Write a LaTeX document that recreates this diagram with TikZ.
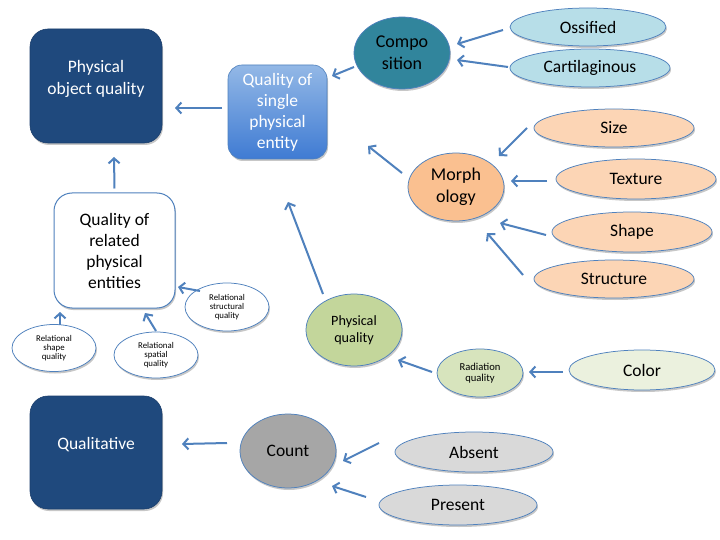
\documentclass[tikz,border=0pt]{standalone}
\usepackage{fontspec}
\setmainfont{Carlito}
\usetikzlibrary{shapes.geometric,arrows.meta,calc,shadows}
\definecolor{navy}{HTML}{1F497D}
\definecolor{navyline}{HTML}{1A3E6C}
\definecolor{arrowblue}{HTML}{4F81BD}
\definecolor{sgltop}{HTML}{93B8E6}
\definecolor{sglbot}{HTML}{3F7BD3}
\definecolor{teal}{HTML}{31859C}
\definecolor{lblue}{HTML}{B7DEE8}
\definecolor{orangeA}{HTML}{FAC090}
\definecolor{orangeB}{HTML}{FCD5B5}
\definecolor{greenA}{HTML}{C3D69B}
\definecolor{greenB}{HTML}{D7E4BD}
\definecolor{greenC}{HTML}{EBF1DE}
\definecolor{greyA}{HTML}{A6A6A6}
\definecolor{greyB}{HTML}{D9D9D9}
\tikzset{
  shad/.style={drop shadow={shadow xshift=1pt, shadow yshift=-2pt, opacity=0.22, fill=black}},
  navybox/.style={rectangle, rounded corners=18pt, fill=navy, draw=navyline, line width=0.6pt,
    minimum width=132pt, minimum height=#1, inner sep=0pt, shad},
  whitetxt/.style={text=white, align=center, font=\fontsize{17.5}{22}\selectfont, inner sep=0pt},
  sglbox/.style={rectangle, rounded corners=14pt, top color=sgltop, bottom color=sglbot, draw=arrowblue,
    line width=0.6pt, minimum width=99pt, minimum height=94pt, inner sep=0pt, text=white, align=center,
    font=\fontsize{17.5}{21}\selectfont, shad},
  relbox/.style={rectangle, rounded corners=18pt, fill=white, draw=arrowblue, line width=1pt,
    minimum width=121pt, minimum height=115pt, inner sep=0pt, align=center,
    font=\fontsize{17.5}{21}\selectfont, shad},
  ell/.style 2 args={ellipse, minimum width=#1pt, minimum height=#2pt, inner sep=0pt,
    draw=arrowblue, line width=0.75pt, align=center, text=black, shad},
  bigf/.style={font=\fontsize{17.5}{21}\selectfont},
  midf/.style={font=\fontsize{18}{22}\selectfont},
  medf/.style={font=\fontsize{14.2}{17}\selectfont},
  smlf/.style={font=\fontsize{10.6}{11.5}\selectfont},
  tinyf/.style={font=\fontsize{8.8}{9}\selectfont},
  arr/.style={draw=arrowblue, line width=2pt, -{Straight Barb[length=5pt,width=11pt]}},
}
\begin{document}
\begin{tikzpicture}[x=1pt,y=-1pt]
\useasboundingbox[fill=white] (0,0) rectangle (720,540);

% boxes
\node[navybox=114pt] (pobj) at (96,86) {};
\node[whitetxt] (pobjtxt) at (96,79) {Physical\\object quality};
\node[navybox=113pt] (qual) at (96,452.5) {};
\node[whitetxt] (qualtxt) at (96,445) {Qualitative};
\node[sglbox] (single) at (277.5,112) {Quality of\\single\\physical\\entity};
\node[relbox] (related) at (114.5,250.5) {Quality of\\related\\physical\\entities};

% composition branch
\node[ell={96}{72}, fill=teal, midf] (compo) at (402,53) {Compo\\sition};
\node[ell={156}{38}, fill=lblue, bigf] (ossified) at (588,27) {Ossified};
\node[ell={160}{38}, fill=lblue, bigf] (cart) at (590,68) {Cartilaginous};

% morphology branch
\node[ell={96}{68}, fill=orangeA, midf] (morph) at (456,187) {Morph\\ology};
\node[ell={160}{38}, fill=orangeB, bigf] (size) at (614,128) {Size};
\node[ell={160}{40}, fill=orangeB, bigf] (texture) at (636,179) {Texture};
\node[ell={160}{40}, fill=orangeB, bigf] (shape) at (632,232) {Shape};
\node[ell={160}{38}, fill=orangeB, bigf] (structure) at (614,279) {Structure};

% physical quality branch
\node[ell={96}{72}, fill=greenA, medf] (physq) at (354,330) {Physical\\quality};
\node[ell={86}{48}, fill=greenB, smlf] (radq) at (480,373) {Radiation\\quality};
\node[ell={146}{40}, fill=greenC, bigf] (color) at (642,370) {Color};

% relational qualities
\node[ell={84}{48}, fill=white, tinyf] (relstruct) at (227,307) {Relational\\structural\\quality};
\node[ell={84}{47}, fill=white, tinyf] (relshape) at (54,348) {Relational\\shape\\quality};
\node[ell={84}{46}, fill=white, tinyf] (relspatial) at (156,355) {Relational\\spatial\\quality};

% count branch
\node[ell={96}{74}, fill=greyA, bigf] (count) at (288,451) {Count};
\node[ell={158}{40}, fill=greyB, bigf] (absent) at (474,452) {Absent};
\node[ell={158}{40}, fill=greyB, bigf] (present) at (458,505) {Present};

% connectors
\draw[arr] ($(single)+(-55.5,-4)$) -- ($(pobj)+(79,22)$);
\draw[arr] ($(related)+(0,-62)$) -- ($(pobj)+(18,71)$);
\draw[arr] ($(compo)+(-48,14)$) -- ($(single)+(54.5,-36)$);
\draw[arr] ($(ossified)+(-85,3)$) -- ($(compo)+(55,-9)$);
\draw[arr] ($(cart)+(-82,-1)$) -- ($(compo)+(55,7)$);
\draw[arr] ($(morph)+(-54,-14)$) -- ($(single)+(90.5,34)$);
\draw[arr] ($(size)+(-87,0)$) -- ($(morph)+(43,-31)$);
\draw[arr] ($(texture)+(-89,2)$) -- ($(morph)+(55,-6)$);
\draw[arr] ($(shape)+(-86,3)$) -- ($(morph)+(44,36)$);
\draw[arr] ($(structure)+(-91,-4)$) -- ($(morph)+(31,46)$);
\draw[arr] ($(physq)+(-31,-36)$) -- ($(single)+(10.5,90)$);
\draw[arr] ($(radq)+(-48,-1)$) -- ($(physq)+(44,30)$);
\draw[arr] ($(color)+(-79,2)$) -- ($(radq)+(49,-1)$);
\draw[arr] ($(relstruct)+(-27,-16)$) -- ($(related)+(63.5,36.5)$);
\draw[arr] ($(relshape)+(6,-23)$) -- ($(related)+(-54.5,61.5)$);
\draw[arr] ($(relspatial)+(0,-24)$) -- ($(related)+(30.5,62.5)$);
\draw[arr] ($(count)+(-61,-8)$) -- ($(qual)+(86,-8.5)$);
\draw[arr] ($(absent)+(-95,-9)$) -- ($(count)+(55,10)$);
\draw[arr] ($(present)+(-92,-8)$) -- ($(count)+(44,35)$);
\end{tikzpicture}
\end{document}
